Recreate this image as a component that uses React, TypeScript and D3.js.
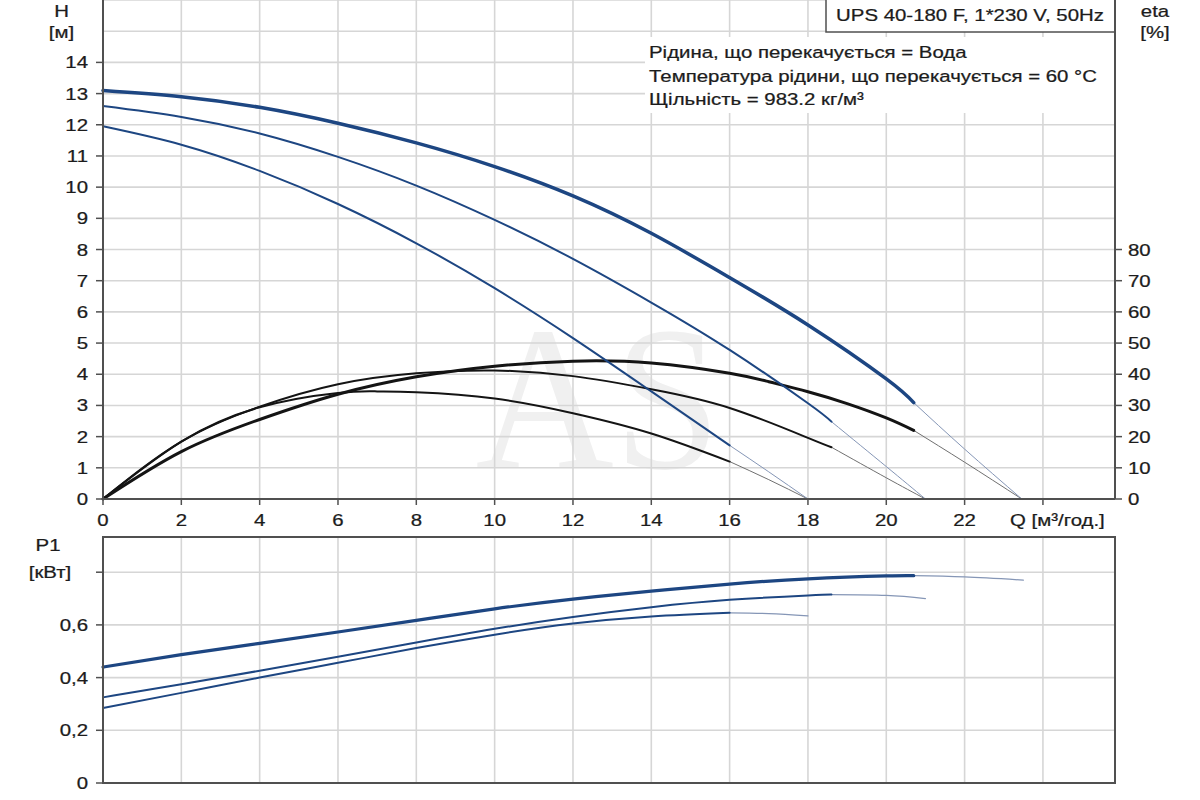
import React from 'react';
import * as d3 from 'd3';

// ---------- data ----------
const qTickValues = [0, 2, 4, 6, 8, 10, 12, 14, 16, 18, 20, 22];
const qGridValues = [2, 4, 6, 8, 10, 12, 14, 16, 18, 20, 22, 24];
const hTickValues = [0, 1, 2, 3, 4, 5, 6, 7, 8, 9, 10, 11, 12, 13, 14];
const hGridValues = [1, 2, 3, 4, 5, 6, 7, 8, 9, 10, 11, 12, 13, 14, 15, 16];
const etaTickValues = [0, 10, 20, 30, 40, 50, 60, 70, 80];
const pTickValues = [0, 0.2, 0.4, 0.6, 0.8];
const pTickLabels = ['0', '0,2', '0,4', '0,6', ''];

const infoLines = [
  'Рідина, що перекачується = Вода',
  'Температура рідини, що перекачується = 60 °C',
  'Щільність = 983.2 кг/м³',
];
const titleText = 'UPS 40-180 F, 1*230 V, 50Hz';

// Head curves (m)
const qHead3 = [0, 2, 4, 6, 8, 10, 12, 14, 16, 18, 20, 20.7];
const head3 = [13.1, 12.9, 12.56, 12.05, 11.42, 10.66, 9.72, 8.52, 7.1, 5.58, 3.85, 3.09];
const qHead3Ext = [20.7, 22, 23.46];
const head3Ext = [3.09, 1.6, 0];

const qHead2 = [0, 2, 4, 6, 8, 10, 12, 14, 16, 18, 18.6];
const head2 = [12.6, 12.25, 11.72, 10.97, 10.05, 8.95, 7.7, 6.3, 4.78, 3.07, 2.48];
const qHead2Ext = [18.6, 20, 21];
const head2Ext = [2.48, 1.04, 0];

const qHead1 = [0, 2, 4, 6, 8, 10, 12, 14, 16];
const head1 = [11.95, 11.36, 10.52, 9.46, 8.2, 6.76, 5.16, 3.45, 1.72];
const qHead1Ext = [16, 17, 18];
const head1Ext = [1.72, 0.87, 0];

// Efficiency curves (%)
const qEta3 = [0, 2, 4, 6, 8, 10, 12, 14, 16, 17, 18, 19, 20, 20.7];
const eta3 = [0, 15.2, 25.5, 33.6, 39.2, 42.6, 44.2, 43.6, 40.3, 37.6, 34.4, 30.6, 26.0, 22.0];
const qEta3Ext = [20.7, 22, 23.46];
const eta3Ext = [22.0, 11.8, 0];

const qEta2 = [0, 2, 4, 6, 8, 10, 12, 14, 16, 18, 18.6];
const eta2 = [0, 18.4, 29.6, 36.8, 40.3, 41.2, 39.4, 35.2, 29.2, 19.6, 16.6];
const qEta2Ext = [18.6, 20, 21];
const eta2Ext = [16.6, 6.8, 0];

const qEta1 = [0, 2, 4, 6, 7, 8, 10, 12, 14, 16];
const eta1 = [0, 18.4, 29.4, 34.0, 34.5, 34.2, 32.2, 27.5, 21.0, 12.0];
const qEta1Ext = [16, 17, 18];
const eta1Ext = [12.0, 6.2, 0];

// Power curves (kW)
const qPow3 = [0, 2, 4, 6, 8, 10, 12, 14, 16, 18, 20, 20.7];
const pow3 = [0.44, 0.487, 0.53, 0.573, 0.617, 0.661, 0.698, 0.728, 0.755, 0.775, 0.786, 0.787];
const qPow3Ext = [20.7, 22, 23.5];
const pow3Ext = [0.787, 0.782, 0.77];

const qPow2 = [0, 2, 4, 6, 8, 10, 12, 14, 16, 18, 18.6];
const pow2 = [0.325, 0.375, 0.426, 0.479, 0.533, 0.585, 0.63, 0.667, 0.695, 0.712, 0.715];
const qPow2Ext = [18.6, 20, 21];
const pow2Ext = [0.715, 0.712, 0.7];

const qPow1 = [0, 2, 4, 6, 8, 10, 12, 14, 16];
const pow1 = [0.285, 0.342, 0.4, 0.456, 0.512, 0.563, 0.605, 0.632, 0.646];
const qPow1Ext = [16, 17, 18];
const pow1Ext = [0.646, 0.643, 0.634];

// ---------- layout ----------
const W = 1200;
const H = 800;
const left = 103;
const right = 1115;
const topY = 0;
const topBottom = 499;
const botTop = 537;
const botBottom = 783;

const FONT = '"Liberation Sans", Arial, sans-serif';
const SX = 1.2;
const FS = 17;
const TXT = '#1c1c1c';
const AX = '#505050';
const GRID = '#d6d6d6';
const BLUE = '#1d4682';
const BLUE_THIN = '#8596b6';
const BLACK = '#141414';
const BLACK_THIN = '#707070';

const x = d3.scaleLinear().domain([0, 25.84]).range([left, right]);
const yH = d3.scaleLinear().domain([0, 14]).range([topBottom, 62.4]);
const yEta = d3.scaleLinear().domain([0, 140]).range([topBottom, 62.4]);
const yP = d3.scaleLinear().domain([0, 0.8]).range([botBottom, 572.2]);

const zip = (a: number[], b: number[]) => a.map((v, i) => [v, b[i]] as [number, number]);

const mkLine = (ys: d3.ScaleLinear<number, number>) =>
  d3
    .line<[number, number]>()
    .x((d) => x(d[0]))
    .y((d) => ys(d[1]))
    .curve(d3.curveNatural);

const lineH = mkLine(yH);
const lineEta = mkLine(yEta);
const lineP = mkLine(yP);

function T({
  x: tx,
  y: ty,
  children,
  anchor = 'start',
  size = FS,
  fill = TXT,
}: {
  x: number;
  y: number;
  children: React.ReactNode;
  anchor?: 'start' | 'middle' | 'end';
  size?: number;
  fill?: string;
}) {
  return (
    <text
      transform={`translate(${tx},${ty}) scale(${SX},1)`}
      textAnchor={anchor}
      fontFamily={FONT}
      fontSize={size}
      fill={fill}
      stroke={fill}
      strokeWidth={0.25}
    >
      {children}
    </text>
  );
}

type Series = { d: string; color: string; width: number };

export default function App() {
  const curves: Series[] = [
    // efficiency
    { d: lineEta(zip(qEta1Ext, eta1Ext))!, color: BLACK_THIN, width: 1 },
    { d: lineEta(zip(qEta2Ext, eta2Ext))!, color: BLACK_THIN, width: 1 },
    { d: lineEta(zip(qEta3Ext, eta3Ext))!, color: BLACK_THIN, width: 1 },
    { d: lineEta(zip(qEta1, eta1))!, color: BLACK, width: 2 },
    { d: lineEta(zip(qEta2, eta2))!, color: BLACK, width: 2 },
    { d: lineEta(zip(qEta3, eta3))!, color: BLACK, width: 3 },
    // head
    { d: lineH(zip(qHead1Ext, head1Ext))!, color: BLUE_THIN, width: 1 },
    { d: lineH(zip(qHead2Ext, head2Ext))!, color: BLUE_THIN, width: 1 },
    { d: lineH(zip(qHead3Ext, head3Ext))!, color: BLUE_THIN, width: 1 },
    { d: lineH(zip(qHead1, head1))!, color: BLUE, width: 2 },
    { d: lineH(zip(qHead2, head2))!, color: BLUE, width: 2 },
    { d: lineH(zip(qHead3, head3))!, color: BLUE, width: 3.5 },
  ];
  const powerCurves: Series[] = [
    { d: lineP(zip(qPow1Ext, pow1Ext))!, color: BLUE_THIN, width: 1.2 },
    { d: lineP(zip(qPow2Ext, pow2Ext))!, color: BLUE_THIN, width: 1.2 },
    { d: lineP(zip(qPow3Ext, pow3Ext))!, color: BLUE_THIN, width: 1.2 },
    { d: lineP(zip(qPow1, pow1))!, color: BLUE, width: 2 },
    { d: lineP(zip(qPow2, pow2))!, color: BLUE, width: 2 },
    { d: lineP(zip(qPow3, pow3))!, color: BLUE, width: 3.2 },
  ];

  return (
    <svg
      width={W}
      height={H}
      viewBox={`0 0 ${W} ${H}`}
      style={{ position: 'absolute', left: 0, top: 0, background: '#fff' }}
    >
      <rect x={0} y={0} width={W} height={H} fill="#fff" />

      {/* watermark */}
      <text
        x={598}
        y={468}
        textAnchor="middle"
        fontFamily='"Liberation Serif", "DejaVu Serif", serif'
        fontSize={205}
        fill="#f0f0f0"
        textLength={245}
        lengthAdjust="spacingAndGlyphs"
      >
        AS
      </text>

      {/* ---- top panel grid ---- */}
      <g stroke={GRID} strokeWidth={1.6}>
        {qGridValues.map((q) => (
          <line key={'vx' + q} x1={x(q)} x2={x(q)} y1={topY} y2={topBottom} />
        ))}
        {hGridValues.map((h) => (
          <line key={'hy' + h} x1={left} x2={right} y1={yH(h)} y2={yH(h)} />
        ))}
      </g>

      {/* white box behind info text */}
      <rect x={645} y={37} width={right - 646} height={76} fill="#fff" />

      {/* title box */}
      <rect x={826} y={-2} width={right - 826} height={34} fill="#fff" stroke={AX} strokeWidth={1.5} />
      <T x={970} y={21} anchor="middle">
        {titleText}
      </T>
      {infoLines.map((t, i) => (
        <T key={t} x={649} y={[58, 81.5, 105][i]}>
          {t}
        </T>
      ))}

      {/* curves top */}
      {curves.map((c, i) => (
        <path
          key={'c' + i}
          d={c.d}
          fill="none"
          stroke={c.color}
          strokeWidth={c.width}
          strokeLinecap="round"
          strokeLinejoin="round"
        />
      ))}

      {/* top panel axes */}
      <g stroke={AX} strokeWidth={2}>
        <line x1={left} x2={left} y1={topY} y2={topBottom} />
        <line x1={right} x2={right} y1={topY} y2={topBottom} />
        <line x1={left} x2={right} y1={topBottom} y2={topBottom} />
      </g>
      <g stroke={AX} strokeWidth={1.5}>
        {hTickValues.map((h) => (
          <line key={'ht' + h} x1={left - 7} x2={left} y1={yH(h)} y2={yH(h)} />
        ))}
        {etaTickValues.map((e) => (
          <line key={'et' + e} x1={right} x2={right + 7} y1={yEta(e)} y2={yEta(e)} />
        ))}
        {[...qTickValues, 24].map((q) => (
          <line key={'qt' + q} x1={x(q)} x2={x(q)} y1={topBottom} y2={topBottom + 6} />
        ))}
      </g>
      {hTickValues.map((h) => (
        <T key={'hl' + h} x={88} y={yH(h) + 6} anchor="end">
          {h}
        </T>
      ))}
      {etaTickValues.map((e) => (
        <T key={'el' + e} x={1128} y={yEta(e) + 6}>
          {e}
        </T>
      ))}
      {qTickValues.map((q) => (
        <T key={'ql' + q} x={x(q)} y={526} anchor="middle">
          {q}
        </T>
      ))}
      <T x={1010} y={526}>
        Q [м³/год.]
      </T>
      <T x={61.5} y={17} anchor="middle">
        H
      </T>
      <T x={61.5} y={38} anchor="middle">
        [м]
      </T>
      <T x={1155} y={17} anchor="middle">
        eta
      </T>
      <T x={1155} y={38} anchor="middle">
        [%]
      </T>

      {/* ---- bottom panel ---- */}
      <g stroke={GRID} strokeWidth={1.6}>
        {qGridValues.map((q) => (
          <line key={'bvx' + q} x1={x(q)} x2={x(q)} y1={botTop} y2={botBottom} />
        ))}
        {pTickValues
          .filter((p) => p > 0)
          .map((p) => (
            <line key={'bhy' + p} x1={left} x2={right} y1={yP(p)} y2={yP(p)} />
          ))}
      </g>
      {powerCurves.map((c, i) => (
        <path
          key={'p' + i}
          d={c.d}
          fill="none"
          stroke={c.color}
          strokeWidth={c.width}
          strokeLinecap="round"
          strokeLinejoin="round"
        />
      ))}
      <rect
        x={left}
        y={botTop}
        width={right - left}
        height={botBottom - botTop}
        fill="none"
        stroke={AX}
        strokeWidth={2}
      />
      <g stroke={AX} strokeWidth={1.5}>
        {pTickValues.map((p) => (
          <line key={'pt' + p} x1={left - 7} x2={left} y1={yP(p)} y2={yP(p)} />
        ))}
      </g>
      {pTickValues.map((p, i) => (
        <T key={'pl' + p} x={88} y={yP(p) + 6} anchor="end">
          {pTickLabels[i]}
        </T>
      ))}
      <T x={48} y={551} anchor="middle">
        P1
      </T>
      <T x={50} y={578} anchor="middle">
        [кВт]
      </T>
    </svg>
  );
}
